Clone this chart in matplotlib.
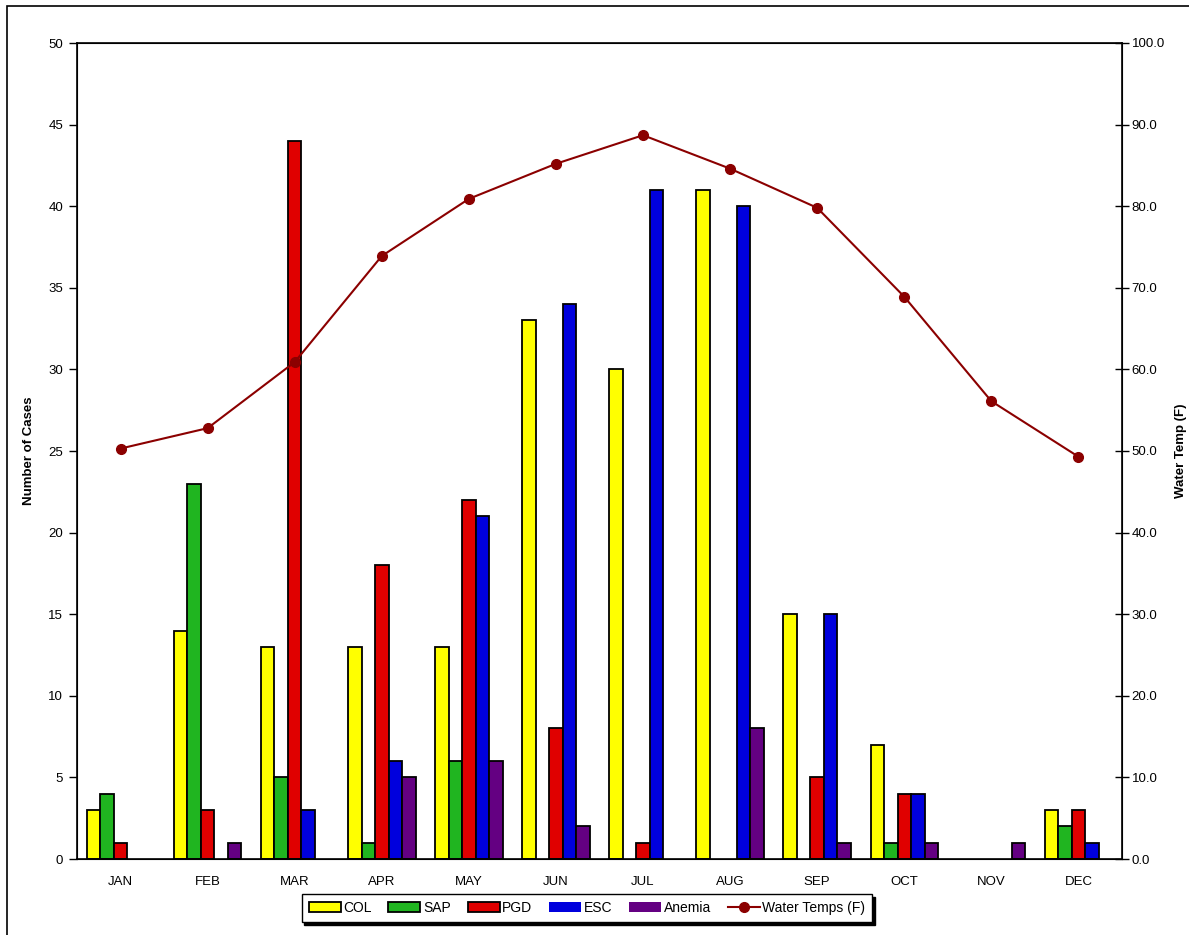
import matplotlib.pyplot as plt
import numpy as np
from matplotlib.patches import Rectangle

plt.rcParams["font.family"] = ["Liberation Sans", "DejaVu Sans"]

months = ["JAN", "FEB", "MAR", "APR", "MAY", "JUN",
          "JUL", "AUG", "SEP", "OCT", "NOV", "DEC"]
col = [3, 14, 13, 13, 13, 33, 30, 41, 15, 7, 0, 3]
sap = [4, 23, 5, 1, 6, 0, 0, 0, 0, 1, 0, 2]
pgd = [1, 3, 44, 18, 22, 8, 1, 0, 5, 4, 0, 3]
esc = [0, 0, 3, 6, 21, 34, 41, 40, 15, 4, 0, 1]
anemia = [0, 1, 0, 5, 6, 2, 0, 8, 1, 1, 1, 0]
water_temp = [50.3, 52.8, 60.9, 73.9, 80.9, 85.2, 88.7, 84.6, 79.8, 68.9, 56.1, 49.3]

series = [
    ("COL", col, "#FFFF00"),
    ("SAP", sap, "#20B520"),
    ("PGD", pgd, "#E00000"),
    ("ESC", esc, "#0000DD"),
    ("Anemia", anemia, "#640082"),
]

fig = plt.figure(figsize=(11.89, 9.35), dpi=100)
ax = fig.add_axes([77 / 1189, 1 - 859 / 935, (1122 - 77) / 1189, (859 - 43) / 935])

x = np.arange(len(months))
width = 0.155
handles = []
for i, (name, vals, color) in enumerate(series):
    vals = np.array(vals)
    # empty bars are not outlined in the original
    lw = np.where(vals > 0, 1.3, 0.0)
    b = ax.bar(x + (i - 2) * width, vals, width, color=color,
               edgecolor="black", linewidth=lw, label=name, zorder=2)
    handles.append(b)

ax.set_xlim(-0.5, len(months) - 0.5)
ax.set_ylim(0, 50)
ax.set_yticks(range(0, 51, 5))
ax.set_xticks(x)
ax.set_xticklabels(months)
ax.tick_params(axis="x", length=0, pad=12, labelsize=9.5)
ax.tick_params(axis="y", direction="out", length=6, width=1, labelsize=9.5, pad=4)
ax.set_ylabel("Number of Cases", fontsize=9.5, fontweight="bold")
ax.yaxis.set_label_coords(-0.040, 0.5)
for s in ax.spines.values():
    s.set_linewidth(1.2)

ax2 = ax.twinx()
line, = ax2.plot(x, water_temp, color="#8B0000", linewidth=1.5, marker="o",
                 markersize=7, label="Water Temps (F)", zorder=3)
ax2.set_ylim(0, 100)
ax2.set_yticks(range(0, 101, 10))
ax2.set_yticklabels([f"{v:.1f}" for v in range(0, 101, 10)])
ax2.tick_params(axis="y", direction="inout", length=10, width=1, labelsize=9.5, pad=2)
ax2.set_ylabel("Water Temp (F)", fontsize=9.5, fontweight="bold")
ax2.yaxis.set_label_coords(1.051, 0.5)

leg = fig.legend(handles + [line], [s[0] for s in series] + ["Water Temps (F)"],
                 loc="center", bbox_to_anchor=(587 / 1189, 1 - 908 / 935),
                 ncol=6, frameon=True, fancybox=False, shadow={"color": "black", "alpha": 1},
                 edgecolor="black", fontsize=10, handlelength=2.3, handleheight=0.8,
                 handletextpad=0.2, columnspacing=1.2, borderpad=0.5)
leg.get_frame().set_linewidth(1)

# outer chart border (cut off on right)
fig.patches.append(Rectangle((7 / 1189, -0.1), 2.0, 1.1 - 6 / 935,
                             transform=fig.transFigure, fill=False,
                             edgecolor="black", linewidth=1.2))

fig.savefig("out.png", dpi=100)
